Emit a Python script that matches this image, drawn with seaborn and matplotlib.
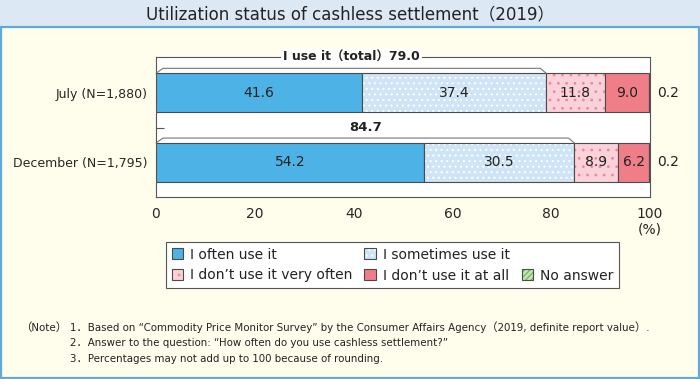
import numpy as np
import pandas as pd
import matplotlib
matplotlib.use("Agg")
import matplotlib.pyplot as plt
import matplotlib.transforms as mtransforms
from matplotlib.patches import Patch, Rectangle
from matplotlib import font_manager
import seaborn as sns

# ---- data ----
periods = ["July (N=1,880)", "December (N=1,795)"]
answers = ["I often use it", "I sometimes use it", "I don’t use it very often",
           "I don’t use it at all", "No answer"]
often = [41.6, 54.2]
sometimes = [37.4, 30.5]
not_very_often = [11.8, 8.9]
not_at_all = [9.0, 6.2]
no_answer = [0.2, 0.2]
use_total = [79.0, 84.7]
x_ticks = [0, 20, 40, 60, 80, 100]

title = "Utilization status of cashless settlement（2019）"
notes = [
    "1．Based on “Commodity Price Monitor Survey” by the Consumer Affairs Agency（2019, definite report value）.",
    "2．Answer to the question: “How often do you use cashless settlement?”",
    "3．Percentages may not add up to 100 because of rounding.",
]

df = pd.DataFrame({"period": periods, answers[0]: often, answers[1]: sometimes,
                   answers[2]: not_very_often, answers[3]: not_at_all,
                   answers[4]: no_answer})
starts = df[answers].cumsum(axis=1) - df[answers]

# ---- styles ----
seg_colors = ["#4db2e5", "#cfe5f7", "#fbd2da", "#f07e89", "#c4e4b3"]
hatch_colors = [None, "white", "#ec8a9c", None, "#62b552"]
hatches = [None, "...", "..", None, "//////"]
edge = "#4a4a4a"

sns.set_style("white")
plt.rcParams["font.family"] = ["DejaVu Sans", "Noto Sans CJK JP"]
plt.rcParams["hatch.linewidth"] = 0.8
plt.rcParams["text.color"] = "#222222"

# condensed face for title / notes if there is one
has_cond = any("Condensed" in f.fname for f in font_manager.fontManager.ttflist
               if f.name == "DejaVu Sans")
note_kw = dict(family=["DejaVu Sans", "Noto Sans CJK JP"])
if has_cond:
    note_kw.update(fontstretch="condensed", fontsize=8.2)
else:
    note_kw.update(fontsize=7.2)

W, H = 700, 379
def fx(px):
    return px / W
def fy(py):
    return 1 - py / H

fig = plt.figure(figsize=(7, 3.79), dpi=100, facecolor="#fffdec")
fig.add_artist(Rectangle((0, fy(27)), 1, 27 / H, transform=fig.transFigure,
                         facecolor="#dde8f5", edgecolor="none", zorder=0))
fig.add_artist(Rectangle((fx(0.8), fy(378)), fx(698.4), (378 - 27) / H,
                         transform=fig.transFigure, facecolor="none",
                         edgecolor="#5fa9dc", lw=1.6, zorder=1))

ax = fig.add_axes([fx(156), fy(197), (650 - 156) / W, (197 - 57) / H])
ax.set_facecolor("white")

bar_h = 0.555
for i, ans in enumerate(answers):
    kw = dict(data=df, x=ans, y="period", orient="h", width=bar_h, ax=ax,
              errorbar=None, saturation=1, left=starts[ans].values)
    if hatches[i]:
        sns.barplot(**kw, color=seg_colors[i], hatch=hatches[i],
                    edgecolor=hatch_colors[i], linewidth=0)
    else:
        sns.barplot(**kw, color=seg_colors[i], linewidth=0)
    sns.barplot(**kw, color=edge, facecolor="none", edgecolor=edge,
                linewidth=0.8)

# segment labels
for r in range(len(periods)):
    for i, ans in enumerate(answers[:4]):
        v = df.loc[r, ans]
        ax.text(starts.loc[r, ans] + v / 2, r, f"{v:.1f}", ha="center",
                va="center", fontsize=10)
    ax.text(101.4, r, f"{df.loc[r, answers[4]]:.1f}", ha="left", va="center",
            fontsize=10)

ax.set_xlim(0, 100)
ylim_top = -0.512
ax.set_ylim(1.496, ylim_top)

# "I use it" brackets and totals
for r, tot in enumerate(use_total):
    top = r - bar_h / 2
    yb = top - 0.072
    ax.plot([0, 1.4, tot - 1.2, tot], [top, yb, yb, top], color="#777777",
            lw=0.8, clip_on=False, zorder=3)
ax.text(use_total[0] / 2, ylim_top, f"I use it（total）{use_total[0]:.1f}",
        ha="center", va="center", fontsize=9, fontweight="bold", zorder=5,
        bbox=dict(facecolor="white", edgecolor="none", pad=1.5))
ax.text(use_total[1] / 2, 0.5, f"{use_total[1]:.1f}", ha="center", va="center",
        fontsize=9.5, fontweight="bold")

ax.set_xticks(x_ticks)
ax.set_yticks([0, 1], labels=periods)
ax.set_yticks([0.5], minor=True)
ax.set_xlabel("")
ax.set_ylabel("")
ax.tick_params(axis="x", direction="in", length=5, width=0.8, color="#555555",
               pad=7, labelsize=10)
ax.tick_params(axis="y", which="major", length=0, pad=6, labelsize=9)
ax.tick_params(axis="y", which="minor", direction="in", length=6, width=0.8,
               color="#555555", left=True)
for s in ax.spines.values():
    s.set_visible(True)
    s.set_color("#555555")
    s.set_linewidth(0.8)

trans = mtransforms.blended_transform_factory(ax.transData, ax.transAxes)
ax.text(100, -0.235, "(%)", transform=trans, ha="center", va="center",
        fontsize=10)

# legend
handles = []
for i in range(len(answers)):
    fill = Patch(facecolor=seg_colors[i], hatch=hatches[i],
                 edgecolor=hatch_colors[i] if hatches[i] else "none", lw=0)
    outline = Patch(facecolor="none", edgecolor=edge, lw=0.8)
    handles.append((fill, outline))
blank = Patch(facecolor="none", edgecolor="none")
order = [handles[0], handles[2], handles[1], handles[3], blank, handles[4]]
labels = [answers[0], answers[2], answers[1], answers[3], "", answers[4]]
leg = fig.legend(order, labels, loc="upper left",
                 bbox_to_anchor=(fx(166), fy(242)), ncol=3, frameon=True,
                 fancybox=False, edgecolor="#555555", framealpha=1,
                 fontsize=10, handlelength=0.8, handleheight=0.8,
                 handletextpad=0.5, columnspacing=0.9, borderpad=0.4,
                 labelspacing=0.5, borderaxespad=0)
leg.get_frame().set_linewidth(0.8)

fig.text(0.5, fy(14), title, ha="center", va="center", fontsize=12,
         family=["DejaVu Sans", "Noto Sans CJK JP"])
fig.text(fx(20), fy(327), "（Note）", ha="left", va="center", **note_kw)
for k, line in enumerate(notes):
    fig.text(fx(70), fy(327 + 16 * k), line, ha="left", va="center", **note_kw)

fig.savefig("out.png", dpi=100, facecolor=fig.get_facecolor())
